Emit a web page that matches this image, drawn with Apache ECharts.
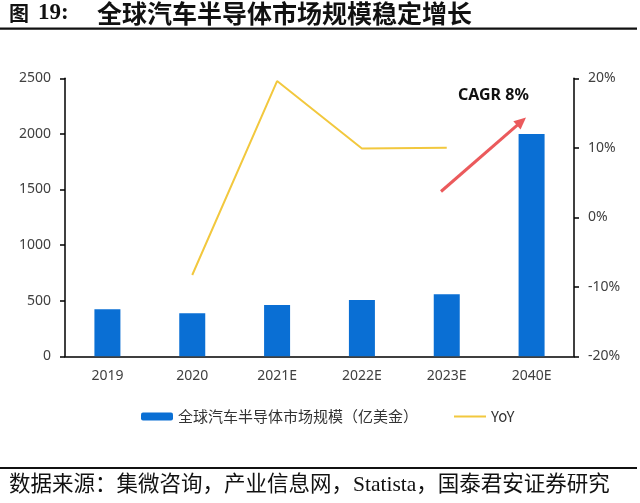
<!DOCTYPE html>
<html>
<head>
<meta charset="utf-8">
<script src="https://cdn.jsdelivr.net/npm/echarts@6/dist/echarts.min.js"></script>
<style>
html,body{margin:0;padding:0;background:#fff;}
#main{width:640px;height:503px;}
</style>
</head>
<body>
<div id="main"></div>
<script>
var categories = ['2019', '2020', '2021E', '2022E', '2023E', '2040E'];
var marketSize = [423, 387, 461, 506, 557, 2000];
var yoy = [null, -8.3, 19.6, 9.9, 10.0, null];
var leftTicks = {min: 0, max: 2500, interval: 500};
var rightTicks = {min: -20, max: 20, interval: 10};
var barName = '全球汽车半导体市场规模（亿美金）';
var lineName = 'YoY';
var titleText = '全球汽车半导体市场规模稳定增长';
var sourceText = '数据来源：集微咨询，产业信息网，Statista，国泰君安证券研究';
var cagrText = 'CAGR 8%';

var chart = echarts.init(document.getElementById('main'));
var axisFont = 'Noto Sans, Open Sans, sans-serif';

// arrow annotation
var ax0 = 441, ay0 = 191.5, ax1 = 526, ay1 = 117.5;
var dx = ax1 - ax0, dy = ay1 - ay0, len = Math.sqrt(dx*dx + dy*dy);
var ux = dx/len, uy = dy/len, hl = 12, hw = 5.5;
var bx = ax1 - ux*hl, by = ay1 - uy*hl;
var arrowColor = '#EB5A5C';

chart.setOption({
  animation: false,
  backgroundColor: '#fff',
  grid: {left: 65, right: 66, top: 78.3, bottom: 146.7, containLabel: false},
  legend: {
    left: 136, top: 404,
    itemWidth: 32, itemHeight: 8, itemGap: 35,
    textStyle: {fontSize: 15, color: '#333', fontFamily: 'Noto Sans CJK SC, Noto Sans, sans-serif'},
    data: [{name: barName}, {name: lineName, itemStyle: {opacity: 0}}]
  },
  xAxis: {
    type: 'category',
    data: categories,
    axisLine: {lineStyle: {color: '#000', width: 1.5}},
    axisTick: {show: false},
    axisLabel: {color: '#404040', fontSize: 14, margin: 13, fontFamily: axisFont}
  },
  yAxis: [{
    type: 'value',
    min: leftTicks.min, max: leftTicks.max, interval: leftTicks.interval,
    axisLine: {show: true, lineStyle: {color: '#000', width: 1.5}},
    axisTick: {show: true, length: 5, lineStyle: {color: '#000', width: 1.5}},
    axisLabel: {color: '#404040', fontSize: 14, margin: 14, fontFamily: axisFont,
      formatter: function (v) { return String(v); }},
    splitLine: {show: false}
  }, {
    type: 'value',
    position: 'right',
    min: rightTicks.min, max: rightTicks.max, interval: rightTicks.interval,
    axisLine: {show: true, lineStyle: {color: '#000', width: 1.5}},
    axisTick: {show: true, length: 5, lineStyle: {color: '#000', width: 1.5}},
    axisLabel: {color: '#404040', fontSize: 14, margin: 14, fontFamily: axisFont, formatter: '{value}%'},
    splitLine: {show: false}
  }],
  series: [{
    name: barName,
    type: 'bar',
    data: marketSize,
    barWidth: 26,
    itemStyle: {color: '#0A6FD4'}
  }, {
    name: lineName,
    type: 'line',
    yAxisIndex: 1,
    data: yoy,
    symbol: 'none',
    connectNulls: false,
    lineStyle: {color: '#F2C83E', width: 2},
    itemStyle: {color: '#F2C83E'}
  }],
  graphic: [
    {type: 'text', left: 9, top: 1, style: {
      text: '{a|图}{b|19:}{c|' + titleText + '}',
      rich: {
        a: {fontSize: 20, fontWeight: 'bold', fontFamily: 'Noto Sans CJK SC', width: 29, fill: '#111'},
        b: {fontSize: 23, fontWeight: 'bold', fontFamily: 'Liberation Serif', width: 59, fill: '#111'},
        c: {fontSize: 25, fontWeight: 'bold', fontFamily: 'Noto Sans CJK SC', fill: '#111'}
      }
    }},
    {type: 'rect', shape: {x: 0, y: 27.5, width: 637, height: 2.2}, style: {fill: '#111'}},
    {type: 'rect', shape: {x: 0, y: 467, width: 637, height: 2}, style: {fill: '#111'}},
    {type: 'text', left: 9, top: 475, style: {
      text: sourceText, fontSize: 21.5, fill: '#111',
      fontFamily: 'Liberation Serif, Noto Sans CJK SC, serif'
    }},
    {type: 'text', left: 458, top: 87, style: {
      text: cagrText, fontSize: 16, fontWeight: 'bold', fill: '#111',
      fontFamily: 'Noto Sans, Open Sans, sans-serif'
    }},
    {type: 'line', shape: {x1: ax0, y1: ay0, x2: bx + ux*2, y2: by + uy*2},
     style: {stroke: arrowColor, lineWidth: 3}},
    {type: 'polygon', shape: {points: [[ax1, ay1], [bx - uy*hw, by + ux*hw], [bx + uy*hw, by - ux*hw]]},
     style: {fill: arrowColor}}
  ]
});
</script>
</body>
</html>
